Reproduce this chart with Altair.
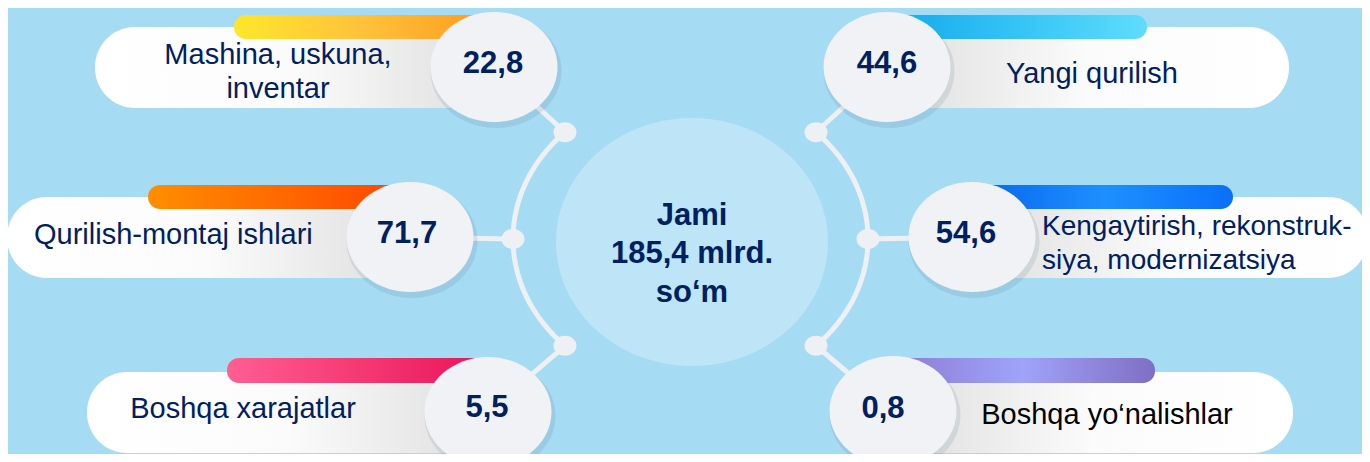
import altair as alt
import pandas as pd
import numpy as np

# ---------------- data ----------------
categories = [
    "Mashina, uskuna,\ninventar",
    "Qurilish-montaj ishlari",
    "Boshqa xarajatlar",
    "Yangi qurilish",
    "Kengaytirish, rekonstruk-\nsiya, modernizatsiya",
    "Boshqa yo‘nalishlar",
]
values = [22.8, 71.7, 5.5, 44.6, 54.6, 0.8]
total_value = 185.4
total_head = "Jami"
total_unit = "mlrd."
total_tail = "so‘m"

# ---------------- layout / styles ----------------
W, H, OFF = 1354, 446, 8
BG = "#a6dbf4"
NAVY = "#002060"
LIGHT = "#eef0f4"

circle_pos = [(494, 67), (410, 237), (488, 412), (887, 67), (972, 237), (893, 411)]
value_pos = [(493, 64), (407, 234), (487, 408), (887, 64), (966, 234), (883, 409)]
box_pos = [(95, 494, 27, 108), (7, 410, 197, 278), (87, 488, 372, 453),
           (887, 1289, 27, 108), (972, 1368, 197, 278), (893, 1293, 372, 453)]
bar_pos = [(234, 490, 15, 39), (148, 405, 185, 209), (227, 485, 358, 383),
           (890, 1147, 15, 39), (975, 1233, 185, 209), (890, 1155, 358, 383)]
bar_colors = [
    ["#fde72b", "#ffc23c", "#ff9a1e"],
    ["#ff8e00", "#ff6a00", "#ff4500"],
    ["#ff5e93", "#f53a74", "#e8145a"],
    ["#14a9ec", "#36c4f5", "#60dcfc"],
    ["#0865ee", "#1e8fff", "#0a70f8"],
    ["#8a7cd2", "#a0a2fa", "#7f6fc2"],
]
label_pos = [(278, 72, "center"), (34, 235, "left"), (243, 409, "center"),
             (1092, 74, "center"), (1042, 244, "left"), (1107, 415, "center")]
label_sizes = [29, 29, 29, 29, 28, 29]
label_colors = [NAVY, NAVY, NAVY, NAVY, NAVY, "#000000"]
line_gap = 34

center_pos = (692, 242)
center_lines_y = [216, 254, 293]
ring = dict(cx=690.5, cy=239, rx=177.5, ry=151)
node_angles = [135, 180, 225, 45, 0, -45]   # matches item order

XS = alt.Scale(domain=[OFF, OFF + W], range=[0, W], zero=False, nice=False)
YS = alt.Scale(domain=[OFF, OFF + H], range=[0, H], zero=False, nice=False)


def ex(f):
    return alt.X(f, type="quantitative", scale=XS, axis=None)


def ey(f):
    return alt.Y(f, type="quantitative", scale=YS, axis=None)


def ellipse_path(ratio):
    return f"M -1 0 A 1 {ratio} 0 1 1 1 0 A 1 {ratio} 0 1 1 -1 0 Z"


layers = []

# central translucent ellipse
cdf = pd.DataFrame({"x": [center_pos[0]], "y": [center_pos[1]]})
layers.append(alt.Chart(cdf).mark_point(shape=ellipse_path(0.912), size=272 ** 2, filled=True,
                                        color="white", opacity=0.26, strokeWidth=0)
              .encode(x=ex("x"), y=ey("y")))

# ring arcs
arc_rows = []
for side, (a0, a1) in enumerate([(135, 225), (-45, 45)]):
    for i, a in enumerate(np.linspace(a0, a1, 60)):
        t = np.deg2rad(a)
        arc_rows.append({"side": side, "i": i,
                         "x": ring["cx"] + ring["rx"] * np.cos(t),
                         "y": ring["cy"] - ring["ry"] * np.sin(t)})
layers.append(alt.Chart(pd.DataFrame(arc_rows)).mark_line(color=LIGHT, strokeWidth=5)
              .encode(x=ex("x"), y=ey("y"), detail="side:N", order="i:Q"))

# nodes and connectors
node_rows = []
for k, a in enumerate(node_angles):
    t = np.deg2rad(a)
    nx = ring["cx"] + ring["rx"] * np.cos(t)
    ny = ring["cy"] - ring["ry"] * np.sin(t)
    node_rows.append({"x": nx, "y": ny, "x2": circle_pos[k][0], "y2": circle_pos[k][1]})
ndf = pd.DataFrame(node_rows)
layers.append(alt.Chart(ndf).mark_rule(color=LIGHT, strokeWidth=5)
              .encode(x=ex("x"), y=ey("y"), x2="x2:Q", y2="y2:Q"))

# boxes
left_grad = alt.Gradient(gradient="linear", x1=0, x2=1, y1=0, y2=0,
                         stops=[alt.GradientStop(color="#ffffff", offset=0),
                                alt.GradientStop(color="#fbfbfb", offset=0.5),
                                alt.GradientStop(color="#dedede", offset=1)])
right_grad = alt.Gradient(gradient="linear", x1=0, x2=1, y1=0, y2=0,
                          stops=[alt.GradientStop(color="#dedede", offset=0),
                                 alt.GradientStop(color="#fbfbfb", offset=0.5),
                                 alt.GradientStop(color="#ffffff", offset=1)])
for idxs, grad in [([0, 1, 2], left_grad), ([3, 4, 5], right_grad)]:
    bdf = pd.DataFrame([{"x": box_pos[k][0], "x2": box_pos[k][1],
                         "y": box_pos[k][2], "y2": box_pos[k][3]} for k in idxs])
    layers.append(alt.Chart(bdf).mark_rect(cornerRadius=40, color=grad)
                  .encode(x=ex("x"), x2="x2:Q", y=ey("y"), y2="y2:Q"))

# gradient bars
for k in range(6):
    x0, x1, y0, y1 = bar_pos[k]
    c = bar_colors[k]
    g = alt.Gradient(gradient="linear", x1=0, x2=1, y1=0, y2=0,
                     stops=[alt.GradientStop(color=c[0], offset=0),
                            alt.GradientStop(color=c[1], offset=0.5),
                            alt.GradientStop(color=c[2], offset=1)])
    bdf = pd.DataFrame({"x": [x0], "x2": [x1], "y": [y0], "y2": [y1]})
    layers.append(alt.Chart(bdf).mark_rect(cornerRadius=12, color=g)
                  .encode(x=ex("x"), x2="x2:Q", y=ey("y"), y2="y2:Q"))

# labels
rows_center, rows_left = [], []
for k, lab in enumerate(categories):
    lines = lab.split("\n")
    lx, ly, al = label_pos[k]
    n = len(lines)
    for j, ln in enumerate(lines):
        r = {"x": lx, "y": ly + (j - (n - 1) / 2) * line_gap, "t": ln,
             "c": label_colors[k], "fs": label_sizes[k]}
        (rows_center if al == "center" else rows_left).append(r)
for rows, al in [(rows_center, "center"), (rows_left, "left")]:
    layers.append(alt.Chart(pd.DataFrame(rows)).mark_text(align=al, baseline="middle",
                                                          font="Liberation Sans")
                  .encode(x=ex("x"), y=ey("y"), text="t:N",
                          color=alt.Color("c:N", scale=None),
                          size=alt.Size("fs:Q", scale=None)))

# value circles (shadow + circle)
circ = pd.DataFrame({"x": [p[0] for p in circle_pos], "y": [p[1] for p in circle_pos]})
circ["xs"] = circ["x"] + 2
circ["ys"] = circ["y"] + 4
layers.append(alt.Chart(circ).mark_point(shape=ellipse_path(0.87), size=131 ** 2, filled=True,
                                         color="#4d6f86", opacity=0.14, strokeWidth=0)
              .encode(x=ex("xs"), y=ey("ys")))
layers.append(alt.Chart(circ).mark_point(shape=ellipse_path(0.866), size=127 ** 2, filled=True,
                                         color="#f1f2f5", opacity=1, strokeWidth=0)
              .encode(x=ex("x"), y=ey("y")))

# values
vdf = pd.DataFrame({"x": [p[0] for p in value_pos], "y": [p[1] for p in value_pos], "v": values})
layers.append(alt.Chart(vdf).transform_calculate(t="replace(format(datum.v, '.1f'), '.', ',')")
              .mark_text(align="center", baseline="middle", fontSize=31, fontWeight="bold",
                         font="Liberation Sans", color=NAVY)
              .encode(x=ex("x"), y=ey("y"), text="t:N"))

# nodes on top
layers.append(alt.Chart(ndf).mark_point(shape=ellipse_path(0.87), size=23 ** 2, filled=True,
                                        color=LIGHT, opacity=1, strokeWidth=0)
              .encode(x=ex("x"), y=ey("y")))

# centre total text
total_str = f"{total_value:.1f}".replace(".", ",") + " " + total_unit
tdf = pd.DataFrame({"x": [center_pos[0]] * 3, "y": center_lines_y,
                    "t": [total_head, total_str, total_tail]})
layers.append(alt.Chart(tdf).mark_text(align="center", baseline="middle", fontSize=31, fontWeight="bold",
                                       font="Liberation Sans", color=NAVY)
              .encode(x=ex("x"), y=ey("y"), text="t:N"))

chart = alt.layer(*layers).properties(
    width=W, height=H, padding=0, background=BG,
    autosize=alt.AutoSizeParams(type="none"),
).configure_view(stroke=None)

chart.save("out.html", embed_options={"renderer": "svg", "actions": False})
